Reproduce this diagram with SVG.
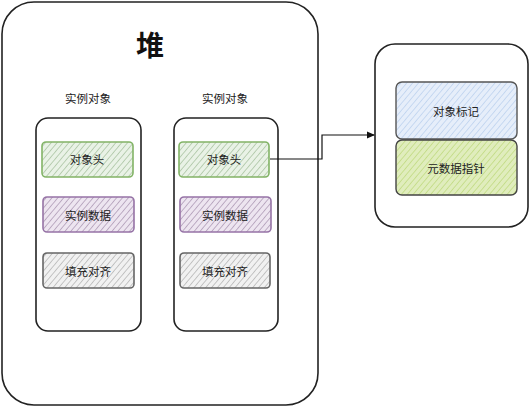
<svg xmlns="http://www.w3.org/2000/svg" width="530" height="408" viewBox="0 0 530 408">
<style>
.t{font-family:"Noto Sans CJK SC","Noto Sans",sans-serif;font-size:11.5px;fill:#222;text-anchor:middle;dominant-baseline:central}
.box{fill:#fff;stroke:#222;stroke-width:1.6}
</style>
<defs>
<pattern id="hg" width="4.5" height="4.5" patternUnits="userSpaceOnUse" patternTransform="rotate(40)"><rect width="4.5" height="4.5" fill="#e9f2e6"/><line x1="0" y1="0" x2="0" y2="4.5" stroke="#aac4a2" stroke-width="1.5"/></pattern>
<pattern id="hp" width="4.5" height="4.5" patternUnits="userSpaceOnUse" patternTransform="rotate(40)"><rect width="4.5" height="4.5" fill="#ede5f0"/><line x1="0" y1="0" x2="0" y2="4.5" stroke="#ad9ab5" stroke-width="1.5"/></pattern>
<pattern id="hy" width="4.5" height="4.5" patternUnits="userSpaceOnUse" patternTransform="rotate(40)"><rect width="4.5" height="4.5" fill="#f1f1f1"/><line x1="0" y1="0" x2="0" y2="4.5" stroke="#b5b5b5" stroke-width="1.5"/></pattern>
<pattern id="hb" width="4.5" height="4.5" patternUnits="userSpaceOnUse" patternTransform="rotate(40)"><rect width="4.5" height="4.5" fill="#e6eefa"/><line x1="0" y1="0" x2="0" y2="4.5" stroke="#bcd1ee" stroke-width="1.5"/></pattern>
<pattern id="hl" width="4.5" height="4.5" patternUnits="userSpaceOnUse" patternTransform="rotate(40)"><rect width="4.5" height="4.5" fill="#e0edbd"/><line x1="0" y1="0" x2="0" y2="4.5" stroke="#c0da80" stroke-width="1.5"/></pattern>
<marker id="arr" markerWidth="8" markerHeight="8" refX="7" refY="4" orient="auto" markerUnits="userSpaceOnUse"><path d="M0,0.5 L8,4 L0,7.5 Z" fill="#111"/></marker>
</defs>
<g id="heap">
<rect class="box" x="2" y="2" width="316" height="403" rx="32"/>
<text x="150" y="44" style="font-family:'Noto Sans CJK SC',sans-serif;font-size:28px;font-weight:bold;fill:#111;text-anchor:middle;dominant-baseline:central">堆</text>
</g>
<g id="obj1">
<text class="t" x="88" y="98">实例对象</text>
<rect class="box" x="36" y="118" width="105" height="213" rx="12"/>
<rect x="42" y="142" width="91" height="35" rx="4" fill="url(#hg)" stroke="#82b366" stroke-width="1.6"/>
<text class="t" x="87" y="159">对象头</text>
<rect x="43" y="197" width="91" height="35" rx="4" fill="url(#hp)" stroke="#9673a6" stroke-width="1.6"/>
<text class="t" x="88" y="215">实例数据</text>
<rect x="43" y="253" width="91" height="35" rx="4" fill="url(#hy)" stroke="#666" stroke-width="1.6"/>
<text class="t" x="88" y="271">填充对齐</text>
</g>
<g id="obj2">
<text class="t" x="225" y="98">实例对象</text>
<rect class="box" x="174" y="118" width="104" height="213" rx="12"/>
<rect x="179" y="142" width="90" height="35" rx="4" fill="url(#hg)" stroke="#82b366" stroke-width="1.6"/>
<text class="t" x="224" y="159">对象头</text>
<rect x="180" y="197" width="91" height="35" rx="4" fill="url(#hp)" stroke="#9673a6" stroke-width="1.6"/>
<text class="t" x="225" y="215">实例数据</text>
<rect x="180" y="253" width="90" height="35" rx="4" fill="url(#hy)" stroke="#666" stroke-width="1.6"/>
<text class="t" x="225" y="271">填充对齐</text>
</g>
<g id="meta">
<rect class="box" x="375" y="44" width="153" height="183" rx="20"/>
<rect x="396" y="82" width="121" height="57" rx="6" fill="url(#hb)" stroke="#555" stroke-width="1.4"/>
<text class="t" x="456" y="111">对象标记</text>
<rect x="396" y="140" width="121" height="55" rx="6" fill="url(#hl)" stroke="#444" stroke-width="1.4"/>
<text class="t" x="456" y="168">元数据指针</text>
</g>
<g id="connectors">
<path d="M270,159 H322 V135 H374" fill="none" stroke="#111" stroke-width="1.2" marker-end="url(#arr)"/>
</g>
</svg>
